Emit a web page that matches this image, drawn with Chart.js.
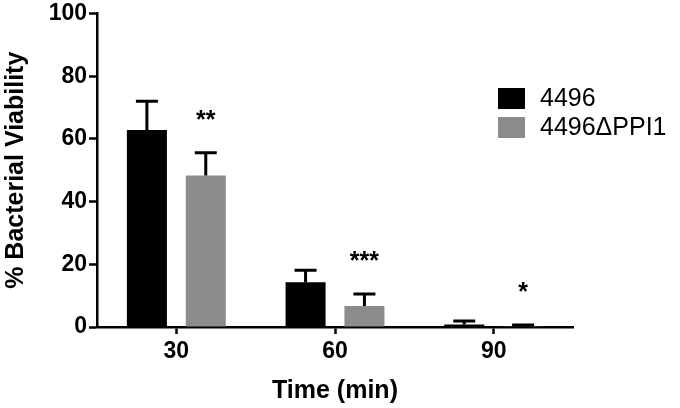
<!DOCTYPE html>
<html>
<head>
<meta charset="utf-8">
<script src="https://cdn.jsdelivr.net/npm/chart.js@4/dist/chart.umd.min.js"></script>
<style>
  html, body { margin: 0; padding: 0; background: #fff; }
  #wrap { width: 680px; height: 408px; }
</style>
</head>
<body>
<div id="wrap"><canvas id="viab"></canvas></div>
<script>
// values
const times = ['30', '60', '90'];
const wtMean = [62.8, 14.3, 0.8];
const wtErr = [9.2, 3.8, 1.1];
const mutMean = [48.3, 6.7, 0.2];
const mutErr = [7.3, 3.8, 0.4];
const stars = ['**', '***', '*'];
const yTicks = [0, 20, 40, 60, 80, 100];

const errs = [wtErr, mutErr];
const FONT = '"Liberation Sans", Arial, Helvetica, sans-serif';

// error bars (up only, T shaped) + significance stars
const errorBars = {
  id: 'errorBars',
  afterDatasetsDraw(chart) {
    const ctx = chart.ctx;
    const y = chart.scales.y;
    ctx.save();
    ctx.strokeStyle = '#000';
    ctx.lineWidth = 3;
    chart.data.datasets.forEach((ds, i) => {
      const meta = chart.getDatasetMeta(i);
      meta.data.forEach((bar, j) => {
        const top = y.getPixelForValue(ds.data[j] + errs[i][j]);
        ctx.beginPath();
        ctx.moveTo(bar.x, bar.y);
        ctx.lineTo(bar.x, top);
        ctx.moveTo(bar.x - 11, top);
        ctx.lineTo(bar.x + 11, top);
        ctx.stroke();
        if (i === 1) {
          ctx.fillStyle = '#000';
          ctx.font = 'bold 25px ' + FONT;
          ctx.textAlign = 'center';
          ctx.textBaseline = 'alphabetic';
          ctx.fillText(stars[j], bar.x, top - 25);
        }
      });
    });
    ctx.restore();
  }
};

// legend drawn by hand to get the big boxes
const sideLegend = {
  id: 'sideLegend',
  afterDraw(chart) {
    const ctx = chart.ctx;
    ctx.save();
    ctx.font = '25px ' + FONT;
    ctx.textBaseline = 'middle';
    ctx.textAlign = 'left';
    chart.data.datasets.forEach((ds, i) => {
      const top = 88 + i * 29;
      ctx.fillStyle = ds.backgroundColor;
      ctx.fillRect(498, top, 27, 21);
      ctx.fillStyle = '#000';
      ctx.fillText(ds.label, 540, top + 11);
    });
    ctx.restore();
  }
};

new Chart(document.getElementById('viab'), {
  type: 'bar',
  data: {
    labels: times,
    datasets: [
      { label: '4496', data: wtMean, backgroundColor: '#000000' },
      { label: '4496\u0394PPI1', data: mutMean, backgroundColor: '#8c8c8c' }
    ]
  },
  options: {
    responsive: true,
    maintainAspectRatio: false,
    animation: false,
    categoryPercentage: 0.742,
    barPercentage: 0.68,
    layout: { padding: { top: 12, right: 107, bottom: 0, left: 0 } },
    plugins: {
      legend: { display: false },
      tooltip: { enabled: false }
    },
    scales: {
      x: {
        afterFit(s) { s.height = 81; },
        grid: { offset: false, drawOnChartArea: false, tickLength: 7, tickWidth: 2.5, tickColor: '#000' },
        border: { color: '#000', width: 2.5 },
        ticks: { color: '#000', padding: 4, font: { family: FONT, size: 23, weight: 'bold' } },
        title: {
          display: true, text: 'Time (min)', color: '#000',
          font: { family: FONT, size: 25, weight: 'bold' },
          padding: { top: 0, bottom: 2 }
        }
      },
      y: {
        min: 0,
        max: 100,
        afterFit(s) { s.width = 97; },
        afterBuildTicks(s) { s.ticks = yTicks.map(v => ({ value: v })); },
        grid: { drawOnChartArea: false, tickLength: 8, tickWidth: 2.5, tickColor: '#000' },
        border: { color: '#000', width: 2.5 },
        ticks: { color: '#000', padding: 2, font: { family: FONT, size: 23, weight: 'bold', lineHeight: 1 } },
        title: {
          display: true, text: '% Bacterial Viability', color: '#000',
          font: { family: FONT, size: 25, weight: 'bold' },
          padding: { top: 1, bottom: 0 }
        }
      }
    }
  },
  plugins: [errorBars, sideLegend]
});
</script>
</body>
</html>
